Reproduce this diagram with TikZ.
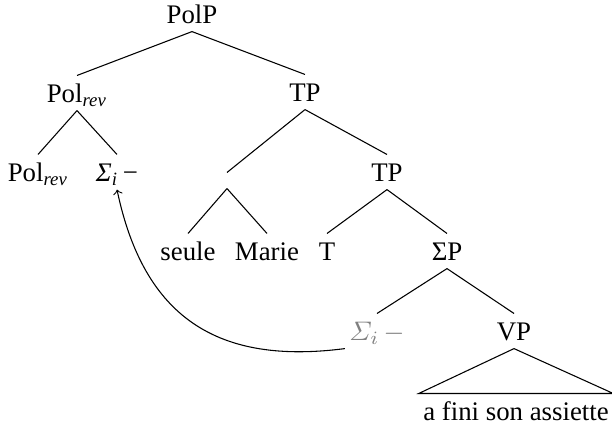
\documentclass[tikz,border=0pt]{standalone}
\usepackage{amsmath}
\usepackage{fontspec}
\setmainfont{Liberation Serif}
\begin{document}
\begin{tikzpicture}[x=0.373pt,y=-0.373pt,
  lbl/.style={anchor=base,inner sep=1.5pt,text height=8.2pt,text depth=1.5pt}]
\useasboundingbox (0,0) rectangle (612,427);

\node[lbl] (polp) at (192,23) {PolP};
\node[lbl] (polrevA) at (77,102) {Pol$_{\textit{rev}}$};
\node[lbl] (tpA) at (305,101) {TP};
\node[lbl] (polrevB) at (38,181) {Pol$_{\textit{rev}}$};
\node[lbl] (sigA) at (117,181) {\textit{Σ}$_{\textit{i}}$\,−};
\node[inner sep=0,minimum height=5.6pt] (adj) at (227,180.5) {};
\node[lbl] (tpB) at (387,181) {TP};
\node[lbl] (seule) at (188,260) {seule};
\node[lbl] (marie) at (267,260) {Marie};
\node[lbl] (t) at (327,260) {T};
\node[lbl] (sigp) at (447,260) {ΣP};
\node[lbl,text=gray] (sigB) at (377,340) {$\varSigma_i\,-$};
\node[lbl] (vp) at (514,340) {VP};
\node[lbl] (leaf) at (516,420) {a fini son assiette};

\draw (polp.south) -- (polrevA.north);
\draw (polp.south) -- (tpA.north);
\draw (polrevA.south) -- (polrevB.north);
\draw (polrevA.south) -- (sigA.north);
\draw (tpA.south) -- (adj.north);
\draw (tpA.south) -- (tpB.north);
\draw (adj.south) -- (seule.north);
\draw (adj.south) -- (marie.north);
\draw (tpB.south) -- (t.north);
\draw (tpB.south) -- (sigp.north);
\draw (sigp.south) -- (sigB.north);
\draw (sigp.south) -- (vp.north);
\draw (vp.south) -- (leaf.north west) -- (leaf.north east) -- cycle;

\draw[->] (sigB.south west) .. controls (218,365) and (144,318) .. (sigA.south);
\end{tikzpicture}
\end{document}
